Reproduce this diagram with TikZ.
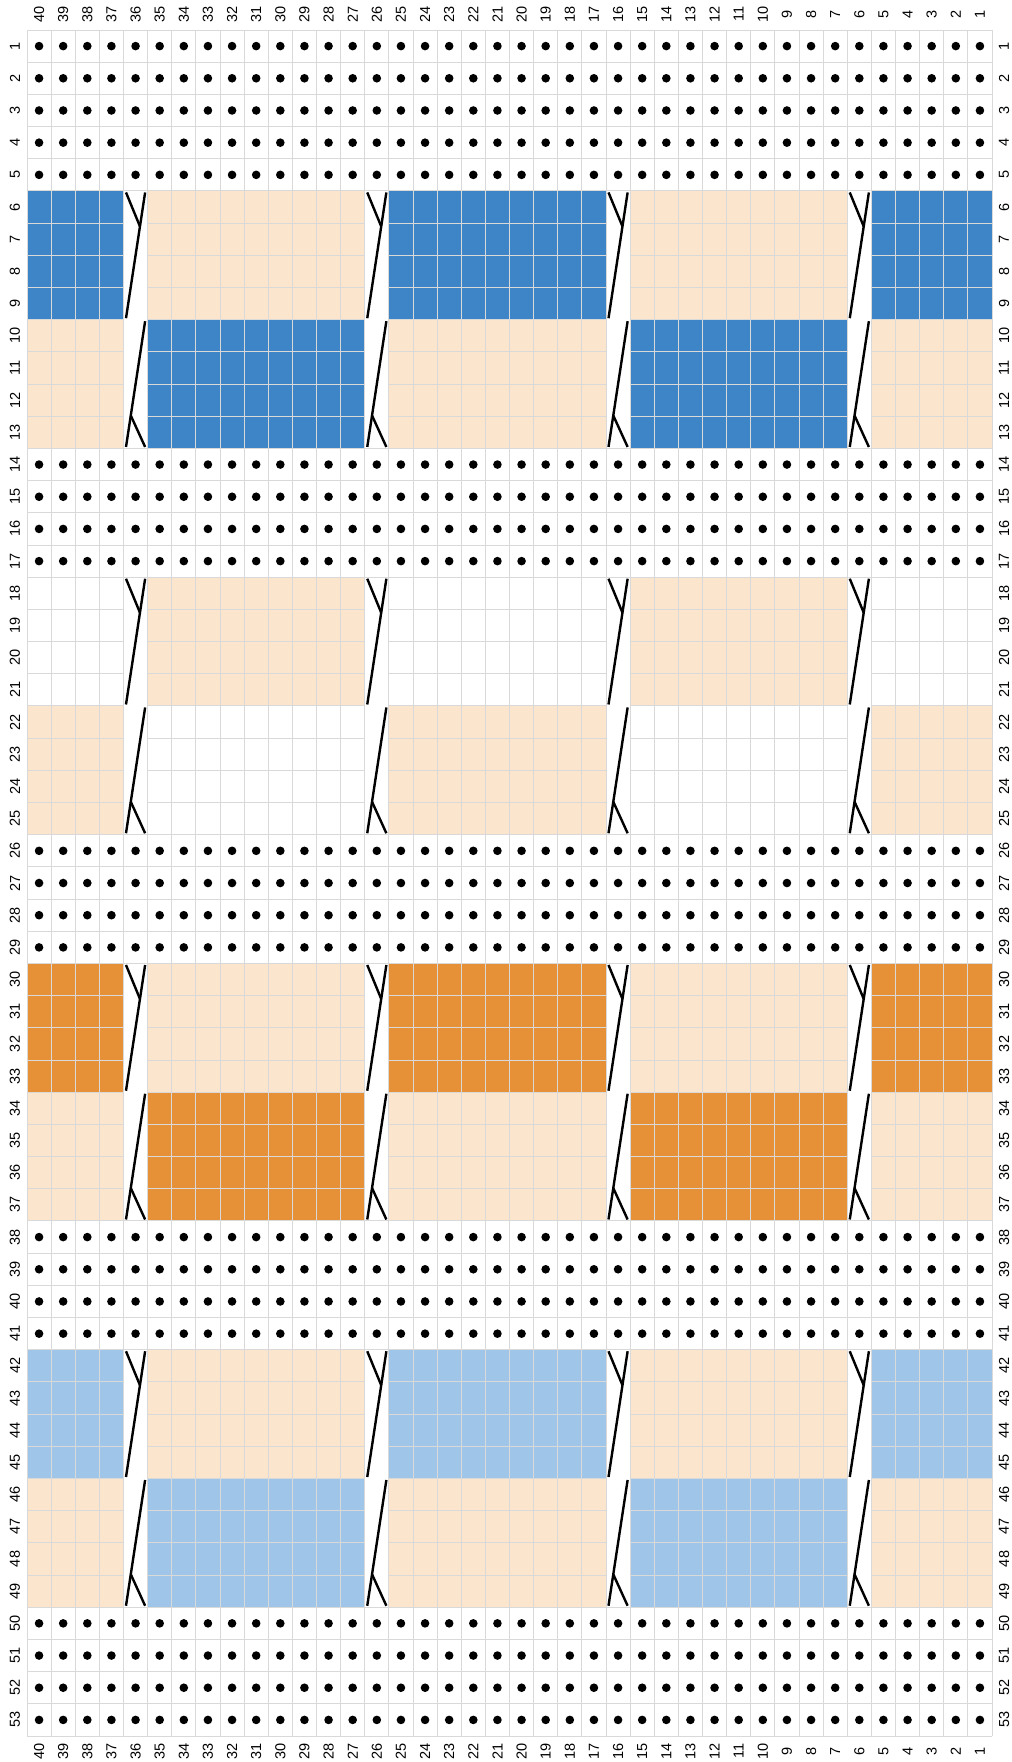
\documentclass[tikz,border=0pt]{standalone}
\usepackage{fontspec}
\setmainfont{Liberation Sans}
\usetikzlibrary{calc}
\definecolor{dkblue}{HTML}{3D85C6}
\definecolor{peach}{HTML}{FCE5CD}
\definecolor{orng}{HTML}{E69138}
\definecolor{ltblue}{HTML}{9FC5E8}
\definecolor{gridc}{HTML}{D9D9D9}
\newcommand\CW{24.125}
\newcommand\RH{32.1887}
% block fill: left index i1, right index i2, top row r1, bottom row r2, colour
\newcommand\blockfill[5]{\fill[#5] ({27+#1*\CW},{30+(#3-1)*\RH}) rectangle ({27+(#2+1)*\CW},{30+#4*\RH});}
\begin{document}
\begin{tikzpicture}[x=1pt,y=-1pt,
  gridl/.style={draw=gridc,line width=1pt},
  cablel/.style={line width=2.4pt,draw=black},
  lbl/.style={font=\fontsize{14.5}{14.5}\selectfont,inner sep=0pt,rotate=90,text=black}]
\useasboundingbox (0,0) rectangle (1012,1762);
\fill[white] (0,0) rectangle (1012,1762);
% colour bands: start row, A colour, B colour
\foreach \r/\ca/\cb in {6/dkblue/peach,10/peach/dkblue,18/white/peach,22/peach/white,30/orng/peach,34/peach/orng,42/ltblue/peach,46/peach/ltblue}{
  \pgfmathtruncatemacro{\re}{\r+3}
  \blockfill{0}{3}{\r}{\re}{\ca}
  \blockfill{15}{23}{\r}{\re}{\ca}
  \blockfill{35}{39}{\r}{\re}{\ca}
  \blockfill{5}{13}{\r}{\re}{\cb}
  \blockfill{25}{33}{\r}{\re}{\cb}
}
% grid
\foreach \r in {0,...,53}{\draw[gridl] (27,{30+\r*\RH}) -- (992,{30+\r*\RH});}
\foreach \i in {0,...,40}{\draw[gridl] ({27+\i*\CW},30) -- ({27+\i*\CW},1736);}
% cable cells
\foreach \i in {4,14,24,34}{
  \foreach \r in {6,18,30,42}{
    \pgfmathsetmacro{\xl}{27+\i*\CW}
    \pgfmathsetmacro{\xr}{\xl+\CW}
    \pgfmathsetmacro{\yt}{30+(\r-1)*\RH}
    \pgfmathsetmacro{\ym}{\yt+4*\RH}
    \pgfmathsetmacro{\yb}{\yt+8*\RH}
    \fill[white] ({\xl+0.5},{\yt+0.5}) rectangle ({\xr-0.5},{\yb-0.5});
    \pgfmathsetmacro{\a}{\xl+2.5}
    \pgfmathsetmacro{\b}{\xr-2.5}
    % upper half
    \coordinate (ut) at (\b,{\yt+1.5});
    \coordinate (ub) at (\a,{\ym-1.5});
    \coordinate (us) at (\a,{\yt+1.5});
    \coordinate (um) at ($(ut)!0.27!(ub)$);
    \draw[cablel] (ub) -- (ut);
    \draw[cablel] (us) -- (um);
    % lower half
    \coordinate (lt) at (\b,{\ym+1.5});
    \coordinate (lb) at (\a,{\yb-1.5});
    \coordinate (ls) at (\b,{\yb-1.5});
    \coordinate (lm) at ($(lt)!0.75!(lb)$);
    \draw[cablel] (lt) -- (lb);
    \draw[cablel] (ls) -- (lm);
  }
}
% purl dots
\foreach \r in {1,2,3,4,5,14,15,16,17,26,27,28,29,38,39,40,41,50,51,52,53}{
  \foreach \i in {0,...,39}{
    \fill[black] ({27+(\i+0.5)*\CW},{30+(\r-0.5)*\RH}) circle (4.3);
  }
}
% column labels
\foreach \i in {0,...,39}{
  \pgfmathtruncatemacro{\c}{40-\i}
  \node[lbl] (top\c) at ({27+(\i+0.5)*\CW},14) {\c};
  \node[lbl] (bot\c) at ({27+(\i+0.5)*\CW},1751) {\c};
}
% row labels
\foreach \r in {1,...,53}{
  \node[lbl] (lft\r) at (15,{30+(\r-0.5)*\RH}) {\r};
  \node[lbl] (rgt\r) at (1004,{30+(\r-0.5)*\RH}) {\r};
}
\end{tikzpicture}
\end{document}
